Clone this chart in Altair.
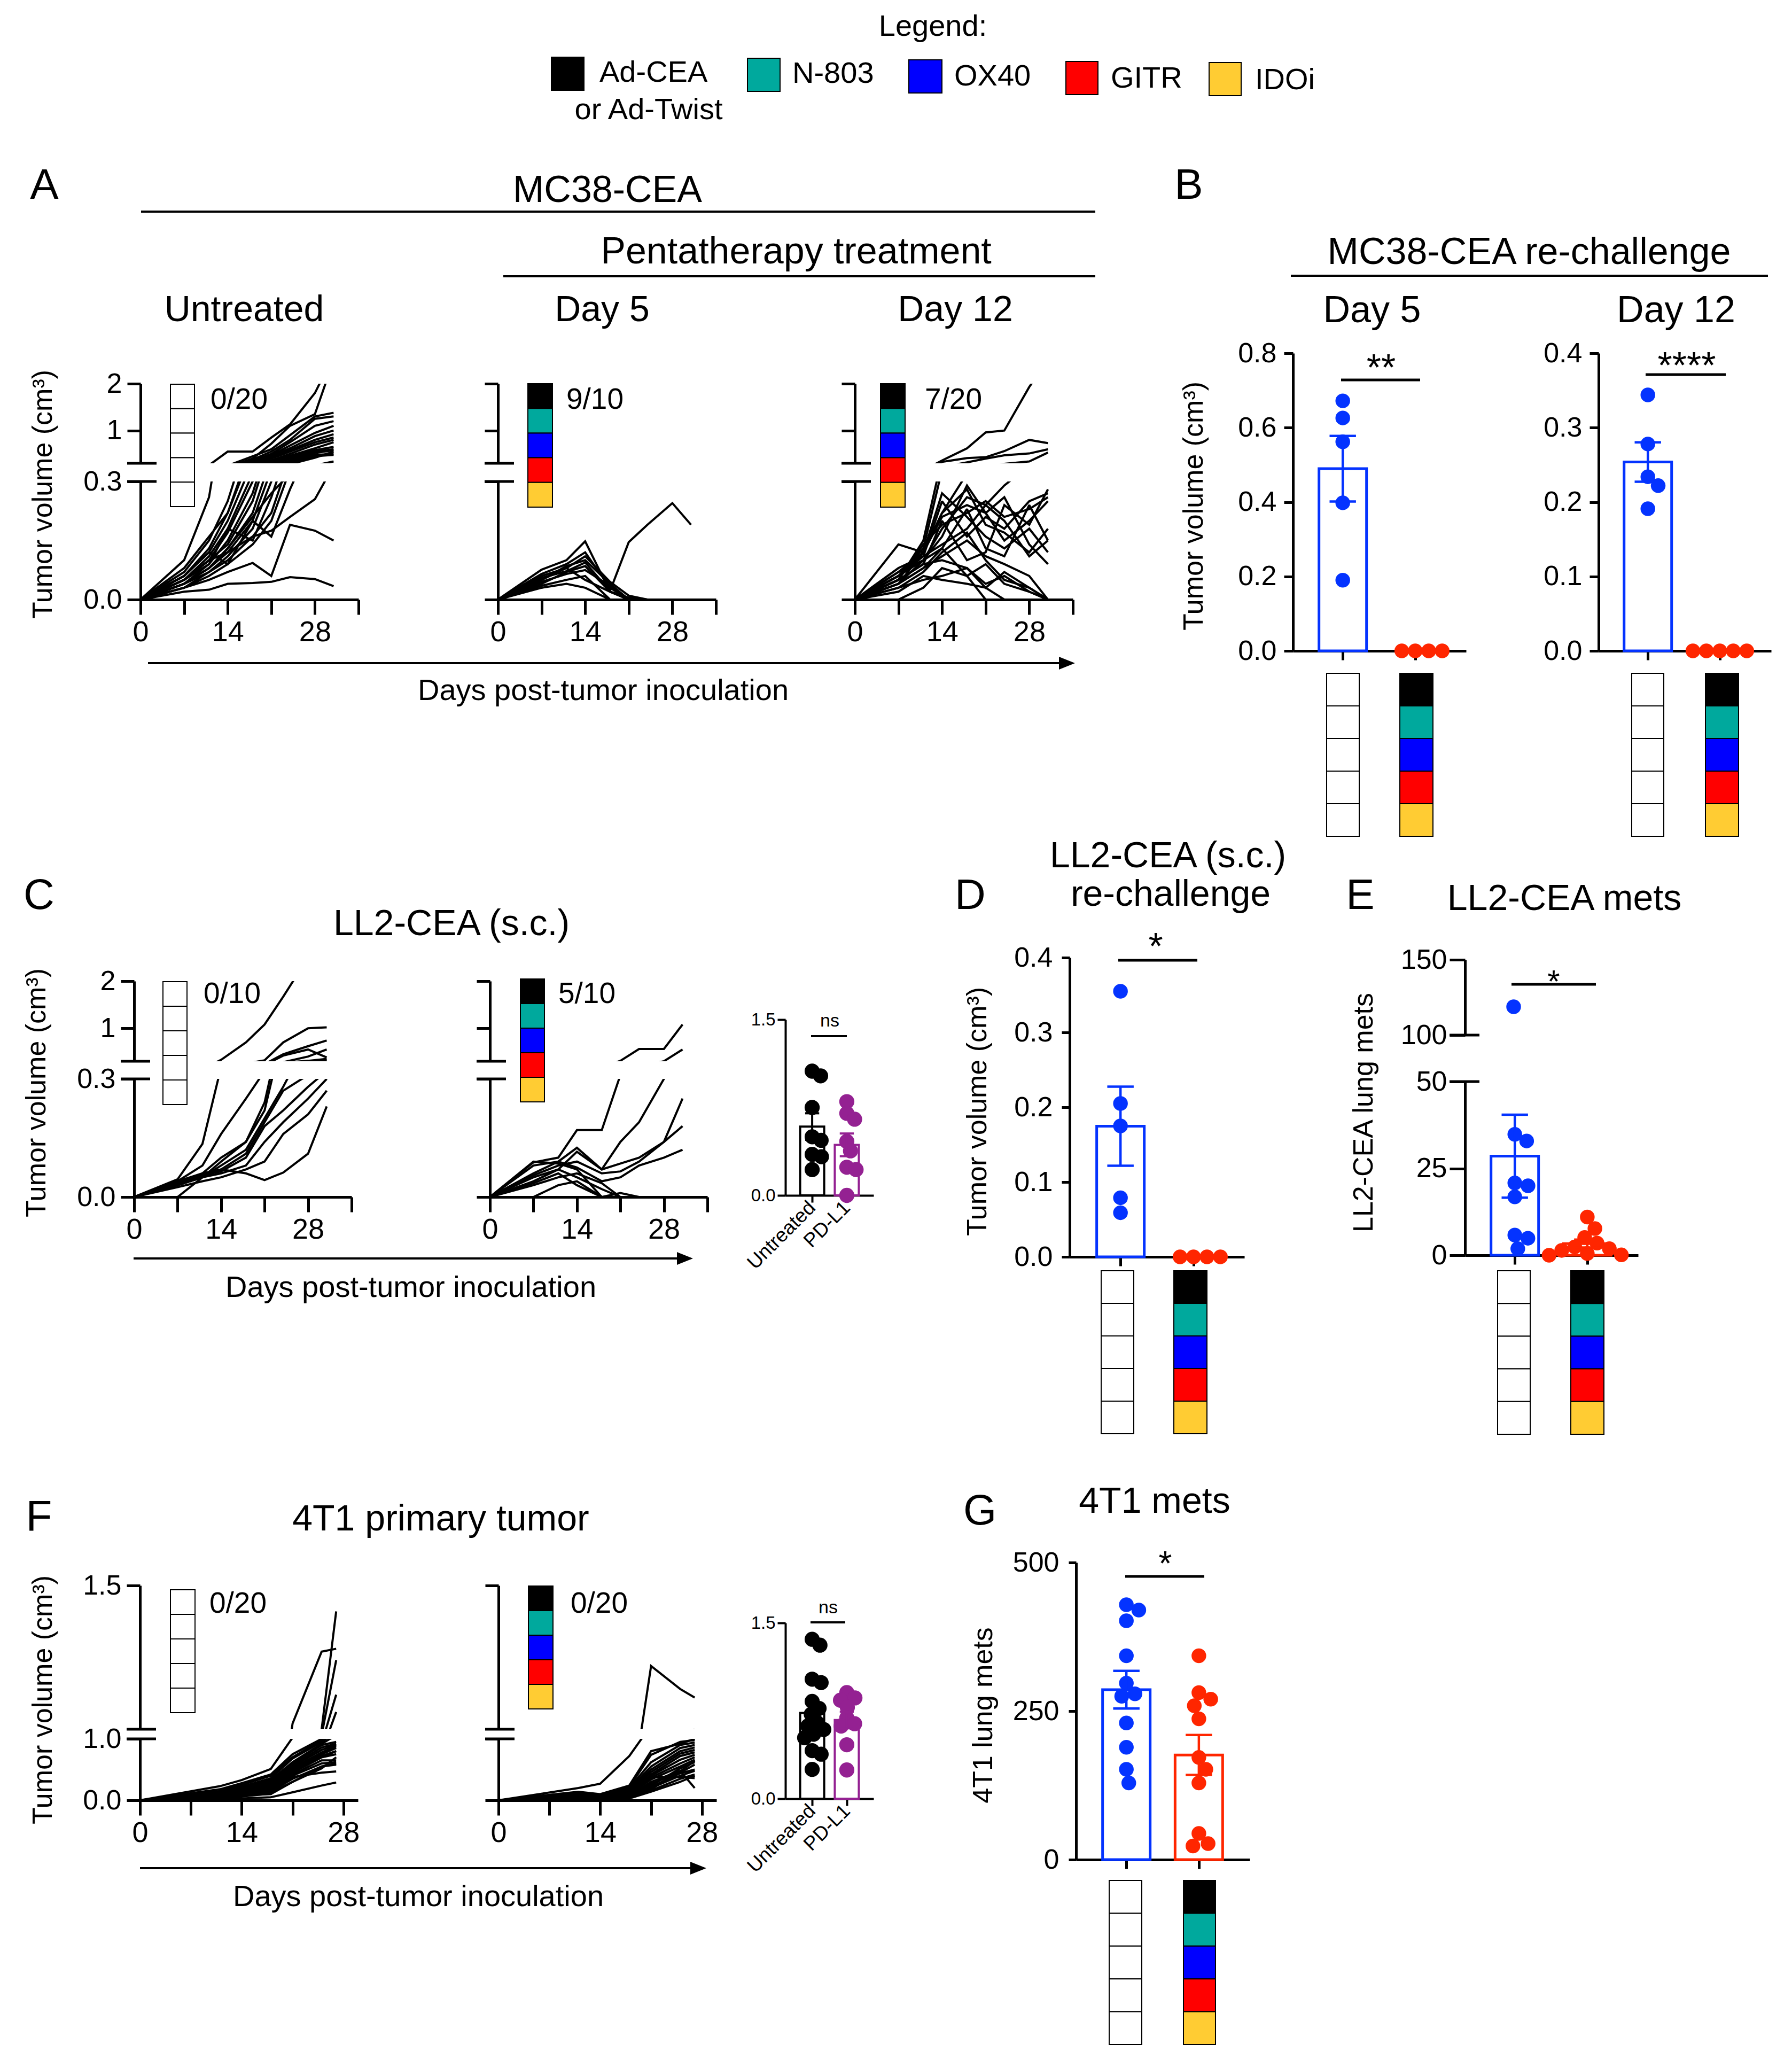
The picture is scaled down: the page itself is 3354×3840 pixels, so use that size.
import math
import statistics
import altair as alt
import pandas as pd

FONT = "Liberation Sans"
BLUE = "#0433FF"
RED = "#FF2600"
PURPLE = "#942192"
COMBO = ["#000000", "#00A99D", "#0000FF", "#FF0000", "#FFCC33"]
LEGEND_LABELS = ["Ad-CEA", "N-803", "OX40", "GITR", "IDOi"]

# ---------------- values ----------------
mc38_days = [0, 7, 11, 14, 18, 21, 24, 28, 31]
mc38_untreated = [
    [0, 0.10, 0.26, 0.55, 0.55, 0.85, 1.13, 1.80, 2.60],
    [0, 0.08, 0.16, 0.22, 0.40, 0.72, 1.10, 1.35, 2.50],
    [0, 0.07, 0.15, 0.25, 0.45, 0.60, 0.90, 1.30, 1.38],
    [0, 0.06, 0.13, 0.22, 0.38, 0.55, 0.80, 1.25, 1.30],
    [0, 0.06, 0.12, 0.20, 0.35, 0.50, 0.75, 1.10, 1.20],
    [0, 0.05, 0.11, 0.18, 0.32, 0.47, 0.68, 0.95, 1.10],
    [0, 0.05, 0.10, 0.17, 0.30, 0.45, 0.62, 0.88, 1.00],
    [0, 0.04, 0.09, 0.15, 0.27, 0.42, 0.58, 0.80, 0.92],
    [0, 0.05, 0.10, 0.14, 0.25, 0.40, 0.55, 0.75, 0.85],
    [0, 0.04, 0.08, 0.13, 0.22, 0.36, 0.50, 0.70, 0.80],
    [0, 0.04, 0.08, 0.12, 0.20, 0.33, 0.46, 0.62, 0.75],
    [0, 0.03, 0.07, 0.11, 0.18, 0.30, 0.43, 0.58, 0.65],
    [0, 0.05, 0.09, 0.18, 0.15, 0.26, 0.40, 0.55, 0.60],
    [0, 0.04, 0.07, 0.10, 0.16, 0.22, 0.36, 0.52, 0.58],
    [0, 0.03, 0.06, 0.09, 0.14, 0.20, 0.33, 0.48, 0.50],
    [0, 0.04, 0.08, 0.13, 0.21, 0.27, 0.32, 0.45, 0.48],
    [0, 0.05, 0.10, 0.12, 0.16, 0.175, 0.21, 0.255, 0.34],
    [0, 0.03, 0.05, 0.07, 0.093, 0.06, 0.19, 0.175, 0.15],
    [0, 0.02, 0.025, 0.04, 0.042, 0.045, 0.057, 0.052, 0.034],
    [0, 0.06, 0.12, 0.09, 0.20, 0.16, 0.28, 0.42, 0.55],
]
mc38_day5 = [
    [0, 0.076, 0.10, 0.148, 0.02, 0, 0],
    [0, 0.065, 0.09, 0.12, 0.03, 0, 0],
    [0, 0.06, 0.08, 0.11, 0.045, 0.01, 0],
    [0, 0.05, 0.085, 0.10, 0.04, 0, 0],
    [0, 0.045, 0.065, 0.075, 0.035, 0, 0],
    [0, 0.04, 0.07, 0.085, 0.02, 0, 0],
    [0, 0.035, 0.05, 0.06, 0, 0, 0],
    [0, 0.03, 0.04, 0.03, 0, 0, 0],
    [0, 0.05, 0.08, 0.05, 0.02, 0.005, 0],
    [0, 0.055, 0.072, 0.094, 0.022, 0.146, 0.19, 0.245, 0.19],
]
mc38_day12 = [
    [0, 0.05, 0.15, 0.36, 0.62, 0.96, 1.00, 1.93, 2.50],
    [0, 0.06, 0.13, 0.33, 0.41, 0.43, 0.56, 0.80, 0.73],
    [0, 0.04, 0.12, 0.22, 0.32, 0.40, 0.47, 0.51, 0.60],
    [0, 0.07, 0.10, 0.18, 0.26, 0.24, 0.29, 0.34, 0.53],
    [0, 0.14, 0.12, 0.21, 0.24, 0.22, 0.15, 0.20, 0.25],
    [0, 0.06, 0.11, 0.14, 0.18, 0.24, 0.20, 0.11, 0.15],
    [0, 0.05, 0.09, 0.20, 0.10, 0.12, 0.24, 0.19, 0.28],
    [0, 0.04, 0.10, 0.13, 0.23, 0.13, 0.11, 0.24, 0.15],
    [0, 0.08, 0.11, 0.25, 0.16, 0.21, 0.18, 0.25, 0.27],
    [0, 0.03, 0.07, 0.12, 0.17, 0.10, 0.05, 0.03, 0.0],
    [0, 0.05, 0.09, 0.10, 0.08, 0.04, 0.06, 0.02, 0.0],
    [0, 0.02, 0.06, 0.05, 0.04, 0.03, 0.0, 0.0, 0.0],
    [0, 0.04, 0.08, 0.13, 0.06, 0.0, 0.0, 0.0, 0.0],
    [0, 0.03, 0.05, 0.06, 0.08, 0.03, 0.07, 0.03, 0.0],
    [0, 0.0, 0.03, 0.08, 0.06, 0.09, 0.04, 0.02, 0.0],
    [0, 0.06, 0.12, 0.22, 0.28, 0.19, 0.17, 0.12, 0.18],
    [0, 0.05, 0.14, 0.19, 0.22, 0.25, 0.21, 0.23, 0.26],
    [0, 0.07, 0.12, 0.27, 0.21, 0.16, 0.13, 0.18, 0.12],
    [0, 0.04, 0.08, 0.11, 0.15, 0.11, 0.09, 0.06, 0.0],
    [0, 0.06, 0.10, 0.16, 0.29, 0.22, 0.26, 0.14, 0.09],
]
ll2_days = [0, 7, 11, 14, 18, 21, 24, 28, 31]
ll2_untreated = [
    [0, 0.045, 0.135, 0.33, 0.70, 1.08, 1.67, 2.50],
    [0, 0.04, 0.08, 0.16, 0.25, 0.32, 0.70, 1.00, 1.02],
    [0, 0.035, 0.06, 0.10, 0.14, 0.24, 0.45, 0.62, 0.74],
    [0, 0.03, 0.05, 0.09, 0.14, 0.22, 0.42, 0.55, 0.38],
    [0, 0.03, 0.05, 0.08, 0.12, 0.20, 0.28, 0.40, 0.55],
    [0, 0.04, 0.06, 0.07, 0.11, 0.19, 0.27, 0.31, 0.35],
    [0, 0.035, 0.055, 0.065, 0.10, 0.18, 0.22, 0.28, 0.32],
    [0, 0.03, 0.05, 0.06, 0.08, 0.14, 0.19, 0.25, 0.30],
    [0, 0.025, 0.04, 0.05, 0.07, 0.09, 0.16, 0.21, 0.27],
    [0, 0.0, 0.05, 0.07, 0.06, 0.043, 0.062, 0.11, 0.23],
]
ll2_treated = [
    [0, 0.088, 0.10, 0.17, 0.17, 0.31, 0.56, 0.56, 1.08],
    [0, 0.05, 0.07, 0.115, 0.07, 0.14, 0.19, 0.30, 0.55],
    [0, 0.06, 0.09, 0.125, 0.07, 0.085, 0.10, 0.14, 0.25],
    [0, 0.055, 0.08, 0.09, 0.06, 0.065, 0.09, 0.14, 0.18],
    [0, 0.08, 0.09, 0.075, 0.04, 0.05, 0.08, 0.10, 0.12],
    [0, 0.09, 0.085, 0.07, 0.0, 0.01, 0.0, 0.0, 0.0],
    [0, 0.04, 0.07, 0.05, 0.02, 0.0, 0.0, 0.0, 0.0],
    [0, 0.0, 0.03, 0.04, 0.0, 0.0, 0.0, 0.0, 0.0],
    [0, 0.035, 0.06, 0.03, 0.0, 0.0, 0.0, 0.0, 0.0],
    [0, 0.03, 0.05, 0.06, 0.035, 0.0, 0.0, 0.0, 0.0],
]
t4_days = [0, 11, 14, 18, 21, 25, 27]
t4_untreated = [
    [0, 0.23, 0.33, 0.51, 1.02, 1.27, 1.28],
    [0, 0.18, 0.28, 0.42, 0.75, 1.00, 1.41],
    [0, 0.15, 0.25, 0.40, 0.70, 0.98, 1.24],
    [0, 0.14, 0.22, 0.36, 0.68, 0.95, 1.12],
    [0, 0.13, 0.22, 0.33, 0.62, 0.92, 1.06],
    [0, 0.12, 0.20, 0.30, 0.60, 0.90, 0.95],
    [0, 0.12, 0.19, 0.29, 0.57, 0.86, 0.92],
    [0, 0.11, 0.18, 0.28, 0.55, 0.82, 0.90],
    [0, 0.11, 0.17, 0.27, 0.52, 0.78, 0.88],
    [0, 0.10, 0.16, 0.25, 0.50, 0.75, 0.85],
    [0, 0.10, 0.15, 0.24, 0.48, 0.72, 0.80],
    [0, 0.09, 0.14, 0.22, 0.45, 0.70, 0.75],
    [0, 0.09, 0.13, 0.20, 0.42, 0.65, 0.65],
    [0, 0.08, 0.12, 0.18, 0.40, 0.60, 0.62],
    [0, 0.08, 0.11, 0.16, 0.38, 0.45, 0.47],
    [0, 0.07, 0.10, 0.14, 0.35, 0.55, 0.60],
    [0, 0.05, 0.08, 0.10, 0.30, 0.55, 0.58],
    [0, 0.04, 0.06, 0.11, 0.45, 0.70, 0.80],
    [0, 0.02, 0.03, 0.05, 0.13, 0.24, 0.29],
    [0, 0.06, 0.09, 0.12, 0.30, 0.52, 0.70],
]
t4_treated = [
    [0, 0.20, 0.27, 0.72, 1.22, 1.14, 1.11],
    [0, 0.14, 0.10, 0.24, 0.80, 0.92, 1.00],
    [0, 0.13, 0.09, 0.22, 0.74, 0.95, 0.98],
    [0, 0.12, 0.08, 0.20, 0.62, 0.90, 0.94],
    [0, 0.11, 0.07, 0.18, 0.55, 0.85, 0.90],
    [0, 0.10, 0.06, 0.16, 0.50, 0.80, 0.86],
    [0, 0.10, 0.06, 0.15, 0.46, 0.76, 0.82],
    [0, 0.09, 0.05, 0.13, 0.42, 0.72, 0.78],
    [0, 0.09, 0.05, 0.12, 0.40, 0.66, 0.74],
    [0, 0.08, 0.04, 0.11, 0.37, 0.60, 0.70],
    [0, 0.08, 0.04, 0.10, 0.34, 0.55, 0.66],
    [0, 0.07, 0.03, 0.09, 0.38, 0.38, 0.36],
    [0, 0.07, 0.03, 0.08, 0.30, 0.48, 0.20],
    [0, 0.06, 0.03, 0.08, 0.27, 0.45, 0.58],
    [0, 0.06, 0.02, 0.07, 0.24, 0.52, 0.62],
    [0, 0.05, 0.02, 0.06, 0.22, 0.44, 0.50],
    [0, 0.05, 0.02, 0.06, 0.20, 0.40, 0.48],
    [0, 0.04, 0.01, 0.05, 0.18, 0.47, 0.64],
    [0, 0.04, 0.01, 0.04, 0.16, 0.35, 0.42],
    [0, 0.03, 0.01, 0.03, 0.14, 0.30, 0.40],
]
ll2_pdl1_untreated = [1.06, 1.02, 0.75, 0.50, 0.47, 0.35, 0.33, 0.22]
ll2_pdl1_treated = [0.80, 0.70, 0.65, 0.46, 0.38, 0.24, 0.22, 0.0]
t4_pdl1_untreated = [1.36, 1.31, 1.02, 0.99, 0.83, 0.77, 0.72, 0.65, 0.62, 0.59, 0.55, 0.52, 0.41, 0.38, 0.25]
t4_pdl1_treated = [0.905, 0.86, 0.84, 0.78, 0.69, 0.64, 0.62, 0.46, 0.245]
mc38_rc_day5_ctrl = [0.672, 0.626, 0.562, 0.398, 0.19]
mc38_rc_day5_treat = [0, 0, 0, 0]
mc38_rc_day12_ctrl = [0.344, 0.278, 0.234, 0.222, 0.191]
mc38_rc_day12_treat = [0, 0, 0, 0, 0]
ll2_rc_ctrl = [0.355, 0.205, 0.175, 0.079, 0.059]
ll2_rc_treat = [0, 0, 0, 0]
ll2_mets_ctrl = [118.8, 34.8, 32.9, 20.8, 20.0, 16.8, 5.8, 4.9, 1.9]
ll2_mets_treat = [11.0, 7.7, 5.1, 3.5, 2.4, 1.9, 1.4, 0.5, 0.1, 0.0]
t4_mets_ctrl = [429, 420, 402, 343, 297, 279, 275, 230, 189, 152, 129]
t4_mets_treat = [343, 281, 270, 259, 237, 172, 152, 129, 44, 27, 23]

# ---------------- layout helpers ----------------
W = 3320
H0 = 710
LW = 4


def P(v):
    return v - 8


ONE = pd.DataFrame({"a": [0]})
AXB = dict(title=None, grid=False, domainColor="black", tickColor="black",
           labelColor="black", labelFont=FONT)


def y_axis(vals, fmt, xl, fs=52, tick=25, pad=10, w=5, labels=True):
    return alt.Axis(values=vals, format=fmt, orient="left", offset=-xl, labels=labels,
                    labelFontSize=fs, tickSize=tick, labelPadding=pad,
                    domainWidth=w, tickWidth=w, **AXB)


def hrule(x1, x2, y, w=5):
    return alt.Chart(ONE).mark_rule(color="black", strokeWidth=w).encode(
        x=alt.value(x1), x2=alt.value(x2), y=alt.value(y))


def line_rows(days, series):
    return pd.DataFrame([{"id": i, "day": d, "v": v}
                         for i, s in enumerate(series) for d, v in zip(days, s)])


def line_panel(days, series, x0, w, xdom, ydom, yvals, yfmt, brk_y, labels, xvals=None):
    xl = P(x0)
    xs = alt.Scale(domain=xdom, range=[xl, xl + w], nice=False, zero=False)
    ys = alt.Scale(domain=ydom, nice=False, zero=False)
    xax = None
    if xvals is not None:
        xax = alt.Axis(values=xvals, format="d", orient="bottom",
                       labelExpr="datum.value % 14 == 0 ? datum.label : ''",
                       labelFontSize=54, tickSize=28, labelPadding=6, domainWidth=5, tickWidth=5,
                       labelFlush=False, labelOverlap=False, **AXB)
    lines = alt.Chart(line_rows(days, series)).mark_line(
        clip=True, color="black", strokeWidth=LW, strokeMiterLimit=2).encode(
        x=alt.X("day:Q", scale=xs, axis=xax),
        y=alt.Y("v:Q", scale=ys, axis=y_axis(yvals, yfmt, xl, labels=labels)),
        detail="id:N")
    return alt.layer(lines, hrule(xl - 25, xl + 30, brk_y))


def swarm(vals, ppu, d):
    order = sorted(range(len(vals)), key=lambda i: -vals[i])
    placed = []
    offs = [0.0] * len(vals)
    for i in order:
        y = vals[i] * ppu
        cands = [0.0]
        for (py, px) in placed:
            dy = abs(y - py)
            if dy < d:
                dx = math.sqrt(d * d - dy * dy)
                cands += [px - dx, px + dx]
        cands.sort(key=lambda c: (round(abs(c), 6), -c))
        for c in cands:
            if all((c - px) ** 2 + (y - py) ** 2 >= d * d - 1e-6 for (py, px) in placed):
                offs[i] = c
                break
        placed.append((y, offs[i]))
    return offs


def bar_panel(groups, x0, w, c1, unit, ytop, ybot, ydom, yvals, yfmt, ppu,
              bar_w=89, pt=755, dsw=26, cap=51, lw=4.5, bw=5, ytick=17, ypad=14, yfs=52,
              axw=5, xtick=17, show_x=True, bars=True, xlabels=False, xfs=37, brk=(),
              brk_l=17, brk_r=27):
    xl = P(x0)
    xs = alt.Scale(domain=[1 - c1 / unit, 1 + (w - c1) / unit], range=[xl, xl + w],
                   nice=False, zero=False)
    ys = alt.Scale(domain=ydom, range=[P(ybot), P(ytop)], nice=False, zero=False)
    yax = y_axis(yvals, yfmt, xl, yfs, ytick, ypad, axw)
    xax = None
    if show_x:
        kw = dict(values=[1, 2], orient="bottom", offset=P(ybot) - H0, tickSize=xtick,
                  domainWidth=axw, tickWidth=axw, **AXB)
        if xlabels:
            kw.update(labelExpr="datum.value == 1 ? 'Untreated' : 'PD-L1'", labelAngle=315,
                      labelAlign="right", labelBaseline="middle", labelFontSize=xfs,
                      labelPadding=4, labelOverlap=False, labelFlush=False)
        else:
            kw["labels"] = False
        xax = alt.Axis(**kw)
    prow, brow = [], []
    for gi, (vals, col) in enumerate(groups):
        offs = swarm(vals, ppu, dsw)
        for v, o in zip(vals, offs):
            if ydom[0] <= v <= ydom[1]:
                prow.append({"xp": gi + 1 + o / unit, "v": v, "col": col})
        m = statistics.mean(vals)
        s = statistics.stdev(vals) / math.sqrt(len(vals))
        if bars and m > 0:
            brow.append({"xp": gi + 1, "m": m, "z": 0.0, "lo": m - s, "hi": m + s,
                         "xa": gi + 1 - cap / 2 / unit, "xb": gi + 1 + cap / 2 / unit, "col": col})

    def enc(xf, yf):
        return dict(x=alt.X(xf, scale=xs, axis=xax), y=alt.Y(yf, scale=ys, axis=yax))

    layers = []
    if brow:
        bdf = pd.DataFrame(brow)
        layers.append(alt.Chart(bdf).mark_bar(fill="white", strokeWidth=bw, size=bar_w,
                                              orient="vertical").encode(
            **enc("xp:Q", "m:Q"), y2="z", stroke=alt.Stroke("col:N", scale=None)))
    if prow:
        layers.append(alt.Chart(pd.DataFrame(prow)).mark_circle(size=pt, opacity=1).encode(
            **enc("xp:Q", "v:Q"), color=alt.Color("col:N", scale=None)))
    if brow:
        layers.append(alt.Chart(bdf).mark_rule(strokeWidth=lw).encode(
            **enc("xp:Q", "lo:Q"), y2="hi", color=alt.Color("col:N", scale=None)))
        layers.append(alt.Chart(bdf).mark_rule(strokeWidth=lw).encode(
            **enc("xa:Q", "hi:Q"), x2="xb", color=alt.Color("col:N", scale=None)))
        layers.append(alt.Chart(bdf).mark_rule(strokeWidth=lw).encode(
            **enc("xa:Q", "lo:Q"), x2="xb", color=alt.Color("col:N", scale=None)))
    for by in brk:
        layers.append(hrule(xl - brk_l, xl + brk_r, P(by)))
    return alt.layer(*layers)


def spacer(h):
    return alt.Chart(ONE).mark_point(opacity=0, size=1).encode(
        x=alt.value(5), y=alt.value(h / 2)).properties(width=W, height=h)


def view(panels, h):
    return alt.layer(*panels).resolve_scale(x="independent", y="independent").properties(width=W, height=h)


# ---------------- annotations (reference pixel coordinates) ----------------
CENTER_TEXT = [
    ("Legend:", 1746, 47, 56, "cap"), ("or Ad-Twist", 1214, 203, 56, "cap"),
    ("A", 83, 343, 80, "cap"), ("MC38-CEA", 1137, 353, 70, "cap"),
    ("Pentatherapy treatment", 1490, 468, 70, "cap"),
    ("Untreated", 457, 577, 68, "cap"), ("Day 5", 1127, 577, 68, "cap"), ("Day 12", 1788, 577, 68, "cap"),
    ("B", 2225, 343, 80, "cap"), ("MC38-CEA re-challenge", 2862, 469, 70, "cap"),
    ("Day 5", 2568, 578, 70, "cap"), ("Day 12", 3137, 578, 70, "cap"),
    ("Days post-tumor inoculation", 1129, 1290, 56, "cap"),
    ("C", 73, 1672, 80, "cap"), ("LL2-CEA (s.c.)", 845, 1726, 68, "cap"),
    ("Days post-tumor inoculation", 769, 2407, 56, "cap"),
    ("D", 1816, 1672, 80, "cap"), ("LL2-CEA (s.c.)", 2186, 1599, 68, "cap"),
    ("re-challenge", 2191, 1677, 68, "x"),
    ("E", 2546, 1672, 80, "cap"), ("LL2-CEA mets", 2928, 1679, 68, "cap"),
    ("F", 73, 2835, 80, "cap"), ("4T1 primary tumor", 825, 2840, 68, "cap"),
    ("Days post-tumor inoculation", 783, 3547, 56, "cap"),
    ("G", 1834, 2824, 80, "cap"), ("4T1 mets", 2161, 2807, 68, "cap"),
    ("**", 2585, 672, 70, "star"), ("****", 3157, 668, 70, "star"),
    ("*", 2163, 1755, 70, "star"), ("*", 2908, 1823, 60, "star"), ("*", 2181, 2912, 64, "star"),
    ("ns", 1553, 1912, 34, "x"), ("ns", 1550, 3010, 34, "x"),
]
LEFT_TEXT = [
    ("Ad-CEA", 1122, 133, 56), ("N-803", 1483, 135, 56), ("OX40", 1786, 140, 56),
    ("GITR", 2079, 144, 56), ("IDOi", 2349, 147, 56),
    ("0/20", 394, 745, 55), ("9/10", 1060, 745, 55), ("7/20", 1731, 745, 55),
    ("0/10", 381, 1857, 55), ("5/10", 1045, 1857, 55),
    ("0/20", 392, 2998, 55), ("0/20", 1068, 2998, 55),
]
ROT_TEXT = [
    ("Tumor volume (cm³)", 81, 925, 52), ("Tumor volume (cm³)", 69, 2045, 52),
    ("Tumor volume (cm³)", 81, 3181, 52), ("Tumor volume (cm³)", 2235, 947, 52),
    ("Tumor volume (cm³)", 1830, 2080, 52), ("LL2-CEA lung mets", 2553, 2082, 52),
    ("4T1 lung mets", 1841, 3210, 52),
]
RULES = [
    (264, 2050, 396, 4), (942, 2050, 517, 4), (2416, 3309, 516, 4),
    (2510, 2658, 711, 5), (3080, 3230, 701, 5),
    (277, 1997, 1241, 4), (250, 1282, 2355, 4), (262, 1307, 3496, 4),
    (2093, 2241, 1797, 5), (2829, 2987, 1842, 5), (2106, 2254, 2950, 5),
    (1518, 1585, 1939, 4), (1517, 1582, 3036, 4),
]
ARROW_TIPS = [(2012, 1241), (1297, 2355), (1322, 3496)]
BOX_COLS = [
    (319, 364, 719, 948, False), (988, 1034, 718, 949, True), (1648, 1694, 718, 949, True),
    (2483, 2544, 1260, 1565, False), (2620, 2682, 1260, 1565, True),
    (3054, 3114, 1260, 1565, False), (3192, 3254, 1260, 1565, True),
    (305, 350, 1837, 2067, False), (974, 1019, 1832, 2062, True),
    (2061, 2122, 2378, 2683, False), (2197, 2259, 2378, 2683, True),
    (2803, 2864, 2378, 2684, False), (2940, 3002, 2378, 2684, True),
    (319, 365, 2975, 3205, False), (989, 1035, 2968, 3198, True),
    (2076, 2137, 3519, 3826, False), (2215, 2275, 3519, 3826, True),
]
SWATCHES = [(1032, 1093, 107, 169), (1399, 1460, 109, 171), (1701, 1763, 112, 174),
            (1995, 2055, 115, 177), (2263, 2323, 117, 179)]

SHIFT = {"cap": 0.36, "x": 0.26, "star": 0.57}

rect_rows = []
for (x1, x2, y1, y2, treated) in BOX_COLS:
    hh = (y2 - y1) / 5
    for k in range(5):
        rect_rows.append({"x": P(x1), "x2": P(x2), "y": P(y1 + k * hh), "y2": P(y1 + (k + 1) * hh),
                          "c": COMBO[k] if treated else "white"})
for k, (x1, x2, y1, y2) in enumerate(SWATCHES):
    rect_rows.append({"x": P(x1), "x2": P(x2), "y": P(y1), "y2": P(y2), "c": COMBO[k]})

rects = alt.Chart(pd.DataFrame(rect_rows)).mark_rect(stroke="black", strokeWidth=2).encode(
    x=alt.X("x:Q", scale=None), x2="x2", y=alt.Y("y:Q", scale=None), y2="y2",
    fill=alt.Fill("c:N", scale=None))

rule_df = pd.DataFrame([{"x": P(a), "x2": P(b), "y": P(y), "sw": s} for a, b, y, s in RULES])
rules = alt.Chart(rule_df).mark_rule(color="black").encode(
    x=alt.X("x:Q", scale=None), x2="x2", y=alt.Y("y:Q", scale=None),
    strokeWidth=alt.StrokeWidth("sw:Q", scale=None))

ctext_df = pd.DataFrame([{"x": P(x), "y": P(y + SHIFT[k] * fs), "t": t, "fs": fs}
                         for t, x, y, fs, k in CENTER_TEXT])
ctext = alt.Chart(ctext_df).mark_text(font=FONT, color="black", align="center", baseline="alphabetic").encode(
    x=alt.X("x:Q", scale=None), y=alt.Y("y:Q", scale=None), text="t:N",
    size=alt.Size("fs:Q", scale=None))

ltext_df = pd.DataFrame([{"x": P(x), "y": P(y + 0.36 * fs), "t": t, "fs": fs} for t, x, y, fs in LEFT_TEXT])
ltext = alt.Chart(ltext_df).mark_text(font=FONT, color="black", align="left", baseline="alphabetic").encode(
    x=alt.X("x:Q", scale=None), y=alt.Y("y:Q", scale=None), text="t:N",
    size=alt.Size("fs:Q", scale=None))

rtext_df = pd.DataFrame([{"x": P(x), "y": P(y), "t": t, "fs": fs} for t, x, y, fs in ROT_TEXT])
rtext = alt.Chart(rtext_df).mark_text(font=FONT, color="black", align="center", baseline="middle",
                                      angle=270).encode(
    x=alt.X("x:Q", scale=None), y=alt.Y("y:Q", scale=None), text="t:N",
    size=alt.Size("fs:Q", scale=None))

arrow_df = pd.DataFrame([{"x": P(x - 15), "y": P(y)} for x, y in ARROW_TIPS])
arrows = alt.Chart(arrow_df).mark_point(shape="M -1 -0.8 L 1 0 L -1 0.8 Z", filled=True,
                                        color="black", opacity=1, size=900).encode(
    x=alt.X("x:Q", scale=None), y=alt.Y("y:Q", scale=None))

# ---------------- bar panels (absolute placement in the first view) ----------------
B5 = bar_panel([(mc38_rc_day5_ctrl, BLUE), (mc38_rc_day5_treat, RED)], 2420, 324, 91, 140,
               661, 1218, [0, 0.8], [0, 0.2, 0.4, 0.6, 0.8], ".1f", 696)
B12 = bar_panel([(mc38_rc_day12_ctrl, BLUE), (mc38_rc_day12_treat, RED)], 2992, 323, 90, 139,
                661, 1218, [0, 0.4], [0, 0.1, 0.2, 0.3, 0.4], ".1f", 1392)
Dp = bar_panel([(ll2_rc_ctrl, BLUE), (ll2_rc_treat, RED)], 2002, 327, 93, 141,
               1792, 2352, [0, 0.4], [0, 0.1, 0.2, 0.3, 0.4], ".1f", 1400, ytick=15, ypad=17)
E_up = bar_panel([(ll2_mets_ctrl, BLUE), (ll2_mets_treat, RED)], 2742, 324, 91, 140,
                 1796, 1937, [100, 150], [100, 150], "d", 6.5, ytick=29, ypad=5,
                 show_x=False, bars=False, brk=(1937,), brk_l=29, brk_r=27)
E_lo = bar_panel([(ll2_mets_ctrl, BLUE), (ll2_mets_treat, RED)], 2742, 324, 91, 140,
                 2024, 2349, [0, 50], [0, 25, 50], "d", 6.5, ytick=29, ypad=5,
                 brk=(2024,), brk_l=29, brk_r=27)
Gp = bar_panel([(t4_mets_ctrl, BLUE), (t4_mets_treat, RED)], 2014, 325, 92, 140,
               2924, 3480, [0, 500], [0, 250, 500], "d", 1.112, ytick=14, ypad=18)
small = dict(bar_w=45, pt=800, dsw=19, cap=28, lw=4, bw=4, ytick=15, ypad=4, yfs=33, axw=4,
             xtick=13, xlabels=True, xfs=37)
Cb = bar_panel([(ll2_pdl1_untreated, "black"), (ll2_pdl1_treated, PURPLE)], 1470, 165, 48, 69,
               1908, 2237, [0, 1.5], [0, 1.5], ".1f", 219, **small)
Fb = bar_panel([(t4_pdl1_untreated, "black"), (t4_pdl1_treated, PURPLE)], 1470, 165, 48, 69,
               3037, 3366, [0, 1.5], [0, 1.5], ".1f", 219, **small)

V0 = view([rects, rules, ctext, ltext, rtext, arrows, B5, B12, Dp, E_up, E_lo, Gp, Cb, Fb], H0)

# ---------------- line panels (one view per axis segment, clipped) ----------------
X35 = [0, 7, 14, 21, 28, 35]
X28 = [0, 7, 14, 21, 28]
V1 = view([line_panel(mc38_days, s, x0, 408, [0, 35], [0.3, 2], [1, 2], "d", 149, lab)
           for s, x0, lab in [(mc38_untreated, 263, True), (mc38_day5, 932, False), (mc38_day12, 1600, False)]], 149)
V2 = view([line_panel(mc38_days, s, x0, 408, [0, 35], [0, 0.3], [0, 0.3], ".1f", 0, lab, X35)
           for s, x0, lab in [(mc38_untreated, 263, True), (mc38_day5, 932, False), (mc38_day12, 1600, False)]], 221)
V3 = view([line_panel(ll2_days, s, x0, 407, [0, 35], [0.3, 2], [1, 2], "d", 150, lab)
           for s, x0, lab in [(ll2_untreated, 251, True), (ll2_treated, 917, False)]], 150)
V4 = view([line_panel(ll2_days, s, x0, 407, [0, 35], [0, 0.3], [0, 0.3], ".1f", 0, lab, X35)
           for s, x0, lab in [(ll2_untreated, 251, True), (ll2_treated, 917, False)]], 221)
V5 = view([line_panel(t4_days, s, x0, 408, [0, 30], [1.0, 1.5], [1.5], ".1f", 269, lab)
           for s, x0, lab in [(t4_untreated, 262, True), (t4_treated, 933, False)]], 269)
V6 = view([line_panel(t4_days, s, x0, 408, [0, 30], [0, 1.0], [0, 1.0], ".1f", 0, lab, X28)
           for s, x0, lab in [(t4_untreated, 262, True), (t4_treated, 933, False)]], 115)

chart = alt.vconcat(V0, V1, spacer(34), V2, spacer(714), V3, spacer(33), V4, spacer(727),
                    V5, spacer(18), V6, spacing=0, bounds="flush").configure_view(
    strokeWidth=0).properties(padding=0)

chart.save("out.html", embed_options={"renderer": "svg", "actions": False})
